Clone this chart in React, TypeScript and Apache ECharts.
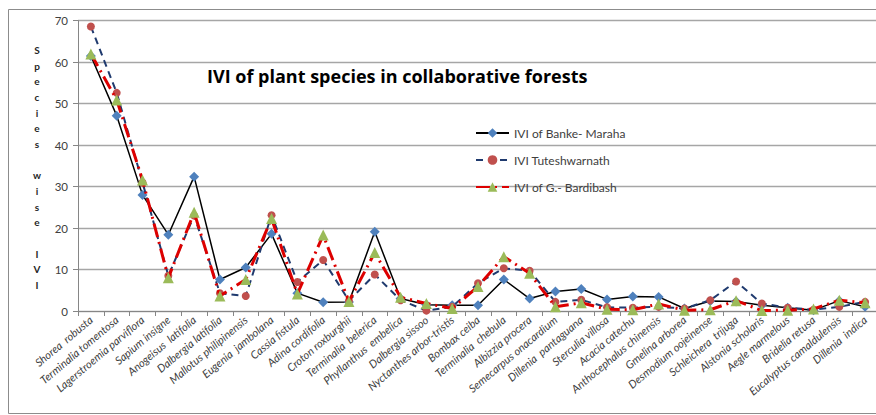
import React, { useEffect, useRef } from "react";
import * as echarts from "echarts";

const categories = [
  "Shorea  robusta", "Terminalia tomentosa", "Lagerstroemia parviflora", "Sapium insigne",
  "Anogeisus  latifolia", "Dalbergia latifolia", "Mallotus philipinensis", "Eugenia  jambolana",
  "Cassia fistula", "Adina cordifolia", "Croton roxburghii", "Terminalia  belerica",
  "Phyllanthus  embelica", "Dalbergia sissoo", "Nyctanthes arbor-tristis", "Bombax ceiba",
  "Terminalia  chebula", "Albizzia procera", "Semecarpus onacardium", "Dillenia  pantaguana",
  "Sterculia villosa", "Acacia catechu", "Anthocephalus chinensis", "Gmelina arborea",
  "Desmodium oojeinense", "Schleichera  trijuga", "Alstonia scholaris", "Aegle marmelous",
  "Bridelia retusa", "Eucalyptus camaldulensis", "Dillenia  indica",
];

const seriesNames = ["IVI of Banke- Maraha", "IVI Tuteshwarnath", "IVI of G.- Bardibash"];

const bankeMaraha = [61.5, 47.1, 28.0, 18.4, 32.4, 7.6, 10.5, 18.6, 4.3, 2.1, 2.2, 19.1, 3.0, 1.5, 1.4, 1.4, 7.6, 3.0, 4.7, 5.3, 2.8, 3.5, 3.4, 0.6, 2.4, 2.3, 1.4, 0.8, 0.2, 2.5, 1.0];
const tuteshwarnath = [68.6, 52.6, 31.0, 8.5, 23.0, 4.3, 3.6, 23.1, 7.0, 12.3, 2.5, 8.8, 2.6, 0.1, 1.0, 6.7, 10.3, 9.7, 2.2, 2.7, 0.9, 0.8, 1.0, 0.6, 2.6, 7.1, 1.8, 0.8, 0.3, 1.0, 2.2];
const bardibash = [62.0, 50.9, 31.6, 8.0, 23.8, 3.6, 7.6, 22.3, 4.1, 18.3, 2.3, 14.1, 3.3, 1.8, 0.6, 5.9, 13.1, 9.1, 1.0, 2.0, 0.4, 0.3, 1.7, 0.2, 0.3, 2.5, 0.1, 0.2, 0.5, 2.6, 2.0];

const yMin = 0;
const yMax = 70;
const yStep = 10;

const titleText = "IVI of plant species in collaborative forests";
const yAxisTitle = "S\np\ne\nc\ni\ne\ns\n\nw\ni\ns\ne\n\nI\nV\nI";

const FONT = "Lato, 'Open Sans', sans-serif";

export default function App() {
  const ref = useRef<HTMLDivElement>(null);
  useEffect(() => {
    document.body.style.margin = "0";
    const chart = echarts.init(ref.current!, null, { renderer: "svg" });
    chart.setOption({
      animation: false,
      backgroundColor: "#ffffff",
      textStyle: { fontFamily: FONT },
      title: {
        text: titleText,
        left: 202,
        top: 62,
        textStyle: { fontSize: 18, fontWeight: "bold", color: "#000000", fontFamily: "'Open Sans', sans-serif" },
      },
      legend: {
        orient: "vertical",
        left: 470,
        top: 122,
        itemWidth: 33,
        itemHeight: 12,
        itemGap: 15,
        textStyle: { fontSize: 12, color: "#404040", fontFamily: FONT },
        data: seriesNames,
      },
      grid: { left: 78, top: 20.7, width: 800, height: 290.3, outerBoundsMode: "none", containLabel: false },
      xAxis: {
        type: "category",
        data: categories,
        boundaryGap: true,
        axisLine: { lineStyle: { color: "#868686", width: 1 } },
        axisTick: { show: true, interval: 0, length: 5, lineStyle: { color: "#868686" } },
        axisLabel: {
          interval: 0,
          rotate: 40,
          fontSize: 11,
          fontStyle: "italic",
          color: "#404040",
          margin: 7,
          fontFamily: FONT,
        },
      },
      yAxis: {
        type: "value",
        min: yMin,
        max: yMax,
        interval: yStep,
        axisLine: { show: true, lineStyle: { color: "#868686", width: 1 } },
        axisTick: { show: true, length: 5, lineStyle: { color: "#868686" } },
        axisLabel: { fontSize: 11.5, color: "#404040", margin: 10, fontFamily: FONT },
        splitLine: { lineStyle: { color: "#A6A6A6", width: 1.3 } },
      },
      graphic: [
        {
          type: "rect",
          silent: true,
          z: -10,
          shape: { x: 8.5, y: 9.5, width: 900, height: 404 },
          style: { fill: "none", stroke: "#8C8C8C", lineWidth: 1 },
        },
        {
          type: "text",
          x: 37,
          y: 42,
          style: {
            text: yAxisTitle,
            fontSize: 10,
            fontWeight: "bold",
            fill: "#262626",
            textAlign: "center",
            textVerticalAlign: "top",
            lineHeight: 15.67,
            fontFamily: FONT,
          },
        },
      ],
      series: [
        {
          name: seriesNames[0],
          type: "line",
          data: bankeMaraha,
          symbol: "diamond",
          symbolSize: 10,
          itemStyle: { color: "#4F81BD" },
          lineStyle: { color: "#000000", width: 1.5, type: "solid" },
          z: 2,
        },
        {
          name: seriesNames[1],
          type: "line",
          data: tuteshwarnath,
          symbol: "circle",
          symbolSize: 8,
          itemStyle: { color: "#C0504D" },
          lineStyle: { color: "#1F3A6E", width: 2, type: [7, 5] },
          z: 3,
        },
        {
          name: seriesNames[2],
          type: "line",
          data: bardibash,
          symbol: "triangle",
          symbolSize: 11,
          itemStyle: { color: "#9BBB59" },
          lineStyle: { color: "#DD0000", width: 3, type: [14, 5, 2, 5] },
          z: 4,
        },
      ],
    });
    return () => chart.dispose();
  }, []);
  return <div ref={ref} style={{ width: 876, height: 415 }} />;
}
